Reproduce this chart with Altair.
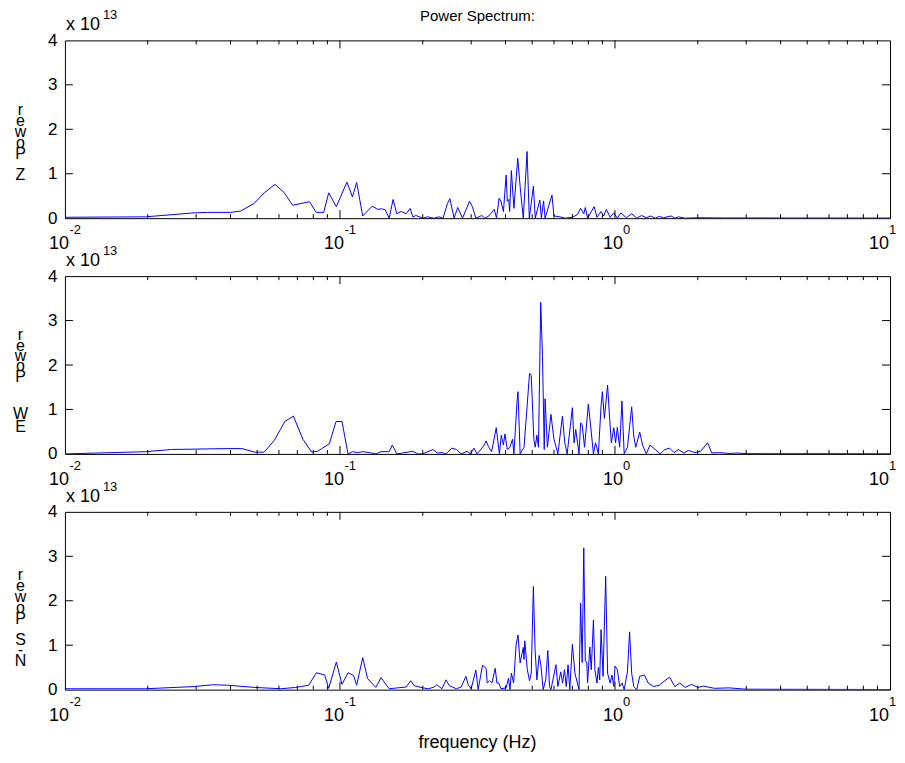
import altair as alt
import pandas as pd

FONT = "Liberation Sans"
W, H = 826, 178
BLUE = "#0000ff"

# ---- data (power in units of 1e13) ----
z_freq = [0.01, 0.0196, 0.0295, 0.033, 0.04, 0.0435, 0.0487, 0.053, 0.058, 0.0626, 0.0673, 0.0775, 0.082, 0.0873,
          0.091, 0.097, 0.106, 0.111, 0.115, 0.121, 0.131, 0.137, 0.142, 0.146, 0.151, 0.156, 0.161, 0.167, 0.174,
          0.180, 0.184, 0.189, 0.200, 0.208, 0.220, 0.229, 0.237, 0.246, 0.251, 0.260, 0.268, 0.279, 0.296, 0.303,
          0.312, 0.328, 0.336, 0.348, 0.364, 0.371, 0.379, 0.385, 0.393, 0.402, 0.406, 0.411, 0.414, 0.420, 0.429,
          0.443, 0.452, 0.464, 0.479, 0.488, 0.505, 0.513, 0.533, 0.540, 0.550, 0.557, 0.590, 0.600, 0.630, 0.660,
          0.700, 0.73, 0.75, 0.77, 0.78, 0.795, 0.84, 0.86, 0.89, 0.91, 0.93, 0.96, 0.99, 1.02, 1.05, 1.10, 1.15,
          1.20, 1.25, 1.30, 1.35, 1.40, 1.45, 1.50, 1.60, 1.65, 1.70, 1.80, 2.0, 2.5, 3.0, 10.0]
z_power = [0.02, 0.03, 0.12, 0.13, 0.13, 0.16, 0.33, 0.57, 0.76, 0.58, 0.29, 0.37, 0.13, 0.13,
           0.57, 0.26, 0.81, 0.48, 0.80, 0.05, 0.27, 0.20, 0.21, 0.19, 0.0, 0.42, 0.10, 0.15, 0.10,
           0.22, 0.03, 0.06, 0.0, 0.03, 0.0, 0.03, 0.0, 0.33, 0.44, 0.0, 0.24, 0.0, 0.38, 0.26,
           0.0, 0.06, 0.0, 0.05, 0.20, 0.0, 0.45, 0.38, 0.15, 0.97, 0.38, 0.42, 0.15, 1.07, 0.22,
           1.35, 0.71, 0.0, 1.50, 0.0, 0.72, 0.0, 0.41, 0.0, 0.39, 0.0, 0.52, 0.05, 0.03, 0.0,
           0.02, 0.08, 0.22, 0.10, 0.24, 0.0, 0.26, 0.02, 0.15, 0.05, 0.20, 0.02, 0.12, 0.0, 0.12, 0.01, 0.10,
           0.0, 0.06, 0.01, 0.05, 0.0, 0.04, 0.01, 0.05, 0.0, 0.03, 0.0, 0.01, 0.005, 0.005, 0.003]

ew_freq = [0.01, 0.0197, 0.0244, 0.039, 0.044, 0.049, 0.053, 0.0578, 0.063, 0.0677, 0.0733, 0.079, 0.083, 0.0915,
           0.0968, 0.1017, 0.107, 0.111, 0.116, 0.121, 0.128, 0.135, 0.141, 0.151, 0.155, 0.161, 0.169, 0.184,
           0.192, 0.200, 0.218, 0.226, 0.235, 0.243, 0.255, 0.265, 0.276, 0.290, 0.298, 0.307, 0.315, 0.333,
           0.340, 0.347, 0.356, 0.370, 0.380, 0.386, 0.393, 0.398, 0.406, 0.415, 0.424, 0.429, 0.441, 0.444,
           0.452, 0.467, 0.489, 0.496, 0.507, 0.513, 0.520, 0.527, 0.537, 0.545, 0.553, 0.557, 0.568, 0.585,
           0.600, 0.62, 0.644, 0.657, 0.67, 0.70, 0.71, 0.72, 0.74, 0.75, 0.76, 0.775, 0.80, 0.815, 0.835, 0.85,
           0.87, 0.89, 0.90, 0.915, 0.94, 0.955, 0.97, 0.99, 1.005, 1.02, 1.04, 1.06, 1.08, 1.11, 1.15, 1.17,
           1.19, 1.23, 1.26, 1.30, 1.34, 1.40, 1.46, 1.52, 1.58, 1.64, 1.70, 1.78, 1.85, 1.95, 2.05, 2.17, 2.25,
           2.4, 2.6, 2.8, 3.0, 10.0]
ew_power = [0.0, 0.05, 0.10, 0.12, 0.12, 0.04, 0.04, 0.31, 0.73, 0.85, 0.33, 0.04, 0.06, 0.23,
            0.73, 0.73, 0.0, 0.05, 0.03, 0.05, 0.03, 0.0, 0.05, 0.05, 0.20, 0.0, 0.02, 0.06,
            0.0, 0.0, 0.10, 0.02, 0.03, 0.0, 0.13, 0.10, 0.0, 0.06, 0.0, 0.13, 0.0, 0.18,
            0.29, 0.16, 0.05, 0.59, 0.0, 0.42, 0.20, 0.45, 0.10, 0.15, 0.33, 0.0, 1.23, 1.40,
            0.0, 0.15, 1.81, 1.76, 0.33, 0.15, 0.42, 0.15, 3.41, 2.20, 0.10, 1.24, 0.15, 0.89,
            0.33, 0.0, 0.85, 0.25, 0.0, 1.04, 0.25, 0.55, 0.0, 0.70, 0.65, 0.15, 1.12, 0.65, 0.0, 0.25,
            0.0, 1.08, 1.40, 0.80, 1.55, 0.85, 0.25, 0.59, 0.25, 0.60, 0.15, 1.19, 0.0, 0.15, 1.06, 0.40,
            0.15, 0.49, 0.20, 0.0, 0.20, 0.10, 0.0, 0.10, 0.13, 0.03, 0.10, 0.02, 0.08, 0.03, 0.06, 0.25, 0.02,
            0.03, 0.01, 0.02, 0.005, 0.003]

ns_freq = [0.01, 0.0197, 0.0295, 0.0345, 0.039, 0.049, 0.061, 0.069, 0.077, 0.082, 0.088, 0.091, 0.097, 0.1017,
           0.107, 0.112, 0.115, 0.121, 0.126, 0.135, 0.141, 0.151, 0.162, 0.174, 0.181, 0.186, 0.200, 0.210,
           0.220, 0.225, 0.235, 0.243, 0.250, 0.265, 0.276, 0.287, 0.293, 0.300, 0.312, 0.318, 0.330, 0.340,
           0.343, 0.350, 0.357, 0.367, 0.372, 0.378, 0.385, 0.402, 0.410, 0.415, 0.420, 0.428, 0.437, 0.444,
           0.452, 0.464, 0.467, 0.470, 0.480, 0.489, 0.496, 0.505, 0.512, 0.520, 0.530, 0.538, 0.548, 0.560,
           0.570, 0.578, 0.585, 0.61, 0.62, 0.635, 0.645, 0.655, 0.665, 0.675, 0.685, 0.70, 0.715, 0.74, 0.75,
           0.76, 0.77, 0.78, 0.79, 0.795, 0.81, 0.82, 0.835, 0.845, 0.86, 0.87, 0.88, 0.89, 0.905, 0.925, 0.94,
           0.96, 0.975, 0.99, 1.0, 1.02, 1.04, 1.06, 1.08, 1.11, 1.13, 1.15, 1.17, 1.20, 1.23, 1.28, 1.32, 1.38,
           1.45, 1.50, 1.58, 1.65, 1.72, 1.80, 1.9, 2.0, 2.1, 2.3, 2.6, 3.0, 10.0]
ns_power = [0.02, 0.02, 0.07, 0.11, 0.10, 0.05, 0.02, 0.05, 0.10, 0.38, 0.33, 0.03, 0.62, 0.12,
            0.38, 0.32, 0.10, 0.72, 0.25, 0.05, 0.27, 0.02, 0.04, 0.06, 0.20, 0.09, 0.04, 0.02,
            0.06, 0.11, 0.02, 0.22, 0.09, 0.02, 0.06, 0.30, 0.10, 0.02, 0.44, 0.0, 0.55, 0.48,
            0.15, 0.20, 0.15, 0.48, 0.15, 0.15, 0.02, 0.04, 0.26, 0.0, 0.37, 0.15, 1.00, 1.23,
            0.60, 0.95, 0.68, 1.10, 0.45, 0.20, 0.37, 2.32, 0.93, 0.22, 0.77, 0.54, 0.0, 0.22,
            0.88, 0.07, 0.0, 0.56, 0.07, 0.40, 0.15, 0.45, 0.07, 0.56, 0.0, 1.02, 0.37, 0.0, 1.95,
            0.61, 3.19, 0.65, 0.60, 0.15, 0.96, 0.45, 1.57, 0.45, 0.15, 0.50, 0.22, 1.35, 0.30, 2.55, 0.37,
            0.15, 0.33, 0.07, 0.53, 0.45, 0.07, 0.15, 0.0, 0.40, 1.30, 0.37, 0.07, 0.0, 0.30, 0.33, 0.15, 0.07,
            0.10, 0.18, 0.28, 0.07, 0.15, 0.05, 0.12, 0.05, 0.08, 0.03, 0.04, 0.01, 0.003]

panel_labels = ["Z Power", "E-W Power", "N-S Power"]
minor_ticks = [0.02, 0.03, 0.04, 0.05, 0.06, 0.07, 0.08, 0.09,
               0.2, 0.3, 0.4, 0.5, 0.6, 0.7, 0.8, 0.9,
               2, 3, 4, 5, 6, 7, 8, 9]
major_ticks = [0.1, 1]
y_ticks = [1, 2, 3]
y_tick_labels = [0, 1, 2, 3, 4]
neg_ticks, neg_exps = [0.01, 0.1], ["-2", "-1"]
mid_ticks, mid_exps = [1], ["0"]
end_ticks, end_exps = [10], ["1"]

xscale = alt.Scale(type="log", domain=[0.01, 10], nice=False)
yscale = alt.Scale(domain=[0, 4], nice=False)


def X():
    return alt.X("f:Q", scale=xscale, axis=None)


def Yp():
    return alt.Y("p:Q", scale=yscale)


def stacked_text(word, y, lh):
    # characters stacked bottom-to-top, each upright (as in the original rendering)
    txt = "\n".join(list(word)[::-1])
    return alt.Chart(pd.DataFrame({"a": [0]})).mark_text(
        font=FONT, fontSize=16, align="center", baseline="middle", color="black",
        lineBreak="\n", lineHeight=lh
    ).encode(x=alt.value(-44.5), y=alt.value(y), text=alt.value(txt))


def panel(freq, power, label, lab, first=False, last=False):
    layers = []
    line = alt.Chart(pd.DataFrame({"f": freq, "p": power})).mark_line(
        color=BLUE, strokeWidth=1, clip=True
    ).encode(
        x=X(),
        y=alt.Y("p:Q", scale=yscale,
                axis=alt.Axis(values=y_tick_labels, ticks=False, domain=False, grid=False,
                              labelFont=FONT, labelFontSize=17, labelColor="black",
                              labelPadding=8, title=None)),
    )
    layers.append(line)

    ytd = pd.DataFrame({"p": y_ticks})
    layers.append(alt.Chart(ytd).mark_rule(color="black", strokeWidth=1).encode(
        y=Yp(), x=alt.value(0), x2=alt.value(8)))
    layers.append(alt.Chart(ytd).mark_rule(color="black", strokeWidth=1).encode(
        y=Yp(), x=alt.value(W - 8), x2=alt.value(W)))

    for ticks, ln in ((minor_ticks, 4), (major_ticks, 8)):
        td = pd.DataFrame({"f": ticks})
        layers.append(alt.Chart(td).mark_rule(color="black", strokeWidth=1).encode(
            x=X(), y=alt.value(H), y2=alt.value(H - ln)))
        layers.append(alt.Chart(td).mark_rule(color="black", strokeWidth=1).encode(
            x=X(), y=alt.value(0), y2=alt.value(ln)))

    for ticks, exps, dxb, dxe in ((neg_ticks, neg_exps, -6, 4.5),
                                  (mid_ticks, mid_exps, -2, 8),
                                  (end_ticks, end_exps, -11, -1)):
        ld = pd.DataFrame({"f": ticks, "e": exps})
        layers.append(alt.Chart(ld).mark_text(
            font=FONT, fontSize=18, align="center", baseline="middle", dx=dxb, color="black"
        ).encode(x=X(), y=alt.value(H + 26), text=alt.value("10")))
        layers.append(alt.Chart(ld).mark_text(
            font=FONT, fontSize=13, align="left", baseline="middle", dx=dxe, color="black"
        ).encode(x=X(), y=alt.value(H + 12), text="e:N"))

    one = pd.DataFrame({"a": [0]})
    layers.append(alt.Chart(one).mark_text(
        font=FONT, fontSize=18, align="left", baseline="middle", color="black"
    ).encode(x=alt.value(1), y=alt.value(-15), text=alt.value("x 10")))
    layers.append(alt.Chart(one).mark_text(
        font=FONT, fontSize=13, align="left", baseline="middle", color="black"
    ).encode(x=alt.value(38), y=alt.value(-25), text=alt.value("13")))

    first_word, second_word = label.split(" ")
    up_y, up_lh, lo_y, lo_lh = lab
    layers.append(stacked_text(second_word, up_y, up_lh))
    layers.append(stacked_text(first_word, lo_y, lo_lh))

    if first:
        layers.append(alt.Chart(one).mark_text(
            font=FONT, fontSize=15, align="center", baseline="top", color="black"
        ).encode(x=alt.value(W / 2), y=alt.value(-31), text=alt.value("Power Spectrum:")))
        layers.append(alt.Chart(one).mark_rule(color="white", strokeWidth=1).encode(
            x=alt.value(-55.5), x2=alt.value(-55.5), y=alt.value(-28), y2=alt.value(-20)))
    if last:
        layers.append(alt.Chart(one).mark_text(
            font=FONT, fontSize=18, align="center", baseline="middle", color="black"
        ).encode(x=alt.value(W / 2), y=alt.value(H + 53), text=alt.value("frequency (Hz)")))

    return alt.layer(*layers).properties(width=W, height=H)


p1 = panel(z_freq, z_power, panel_labels[0], (70, 11, 135, 11), first=True)
p2 = panel(ew_freq, ew_power, panel_labels[1], (59, 10.5, 138, 6.5))
p3 = panel(ns_freq, ns_power, panel_labels[2], (63, 11, 128, 10.75), last=True)

chart = alt.vconcat(p1, p2, p3, spacing=58, bounds="flush").properties(
    padding=0, background="white",
    autosize=alt.AutoSizeParams(type="pad"),
).configure(padding=0).configure_view(stroke="black", strokeWidth=1)

chart.save("out.html", embed_options={"renderer": "svg", "actions": False})
